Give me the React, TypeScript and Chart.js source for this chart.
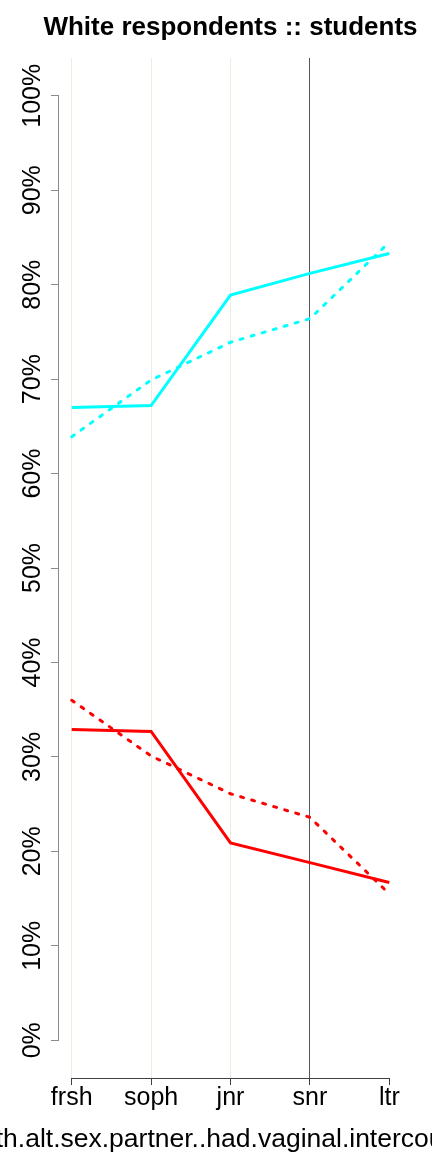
import React, { useEffect, useRef } from "react";
import { Chart, registerables } from "chart.js";

Chart.register(...registerables);

const categories = ["frsh", "soph", "jnr", "snr", "ltr"];
const cyanSolid = [67.0, 67.2, 78.9, 81.2, 83.3];
const cyanDashed = [63.9, 69.9, 73.9, 76.4, 84.5];
const redSolid = [32.9, 32.7, 20.9, 18.8, 16.7];
const redDashed = [36.0, 30.1, 26.1, 23.6, 15.5];
const yTicks = [0, 10, 20, 30, 40, 50, 60, 70, 80, 90, 100];
const xGridColors = ["#efeddc", "#efeddc", "#efeddc", "#555555", "rgba(0,0,0,0)"];
const chartTitle = "White respondents :: students";
const xTitle = "with.alt.sex.partner..had.vaginal.intercourse";

const FONT = "'Liberation Sans', Arial, Helvetica, sans-serif";

const toPoints = (vals: number[]) => vals.map((v, i) => ({ x: i, y: v }));

const rStyle = {
  id: "rStyle",
  afterDraw(chart: any) {
    const { ctx, chartArea, scales } = chart;
    const x = scales.x;
    const y = scales.y;
    ctx.save();
    ctx.lineWidth = 1;
    // y axis line (only over tick range)
    ctx.strokeStyle = "#8a8a8a";
    const ax = Math.round(chartArea.left) - 0.5;
    ctx.beginPath();
    ctx.moveTo(ax, y.getPixelForValue(yTicks[0]));
    ctx.lineTo(ax, y.getPixelForValue(yTicks[yTicks.length - 1]));
    ctx.stroke();
    // x axis line
    ctx.strokeStyle = "#404040";
    const by = Math.round(chartArea.bottom) + 0.5;
    ctx.beginPath();
    ctx.moveTo(x.getPixelForValue(0), by);
    ctx.lineTo(x.getPixelForValue(categories.length - 1), by);
    ctx.stroke();
    // main title
    const cx = (chartArea.left + chartArea.right) / 2;
    ctx.fillStyle = "#000";
    ctx.textAlign = "center";
    ctx.textBaseline = "alphabetic";
    ctx.font = `bold 26px ${FONT}`;
    ctx.fillText(chartTitle, cx, 35);
    // x axis title
    ctx.font = `26.5px ${FONT}`;
    ctx.fillText(xTitle, (x.left + x.right) / 2 - 5, chart.height - 5);
    ctx.restore();
  },
};

export default function App() {
  const ref = useRef<HTMLCanvasElement>(null);
  useEffect(() => {
    const chart = new Chart(ref.current as HTMLCanvasElement, {
      type: "line",
      data: {
        datasets: [
          { data: toPoints(cyanSolid), borderColor: "#00ffff", borderWidth: 3, pointRadius: 0, fill: false, order: 2 },
          { data: toPoints(cyanDashed), borderColor: "#00ffff", borderWidth: 3, pointRadius: 0, fill: false, borderDash: [3, 8.5], borderCapStyle: "round", order: 1 },
          { data: toPoints(redSolid), borderColor: "#ff0000", borderWidth: 3, pointRadius: 0, fill: false, order: 2 },
          { data: toPoints(redDashed), borderColor: "#ff0000", borderWidth: 3, pointRadius: 0, fill: false, borderDash: [3, 8.5], borderCapStyle: "round", order: 1 },
        ],
      },
      options: {
        responsive: false,
        animation: false,
        events: [],
        layout: { padding: { top: 58, right: 30, left: 0, bottom: 0 } },
        plugins: { legend: { display: false }, title: { display: false }, tooltip: { enabled: false } },
        scales: {
          x: {
            type: "linear",
            min: -0.16,
            max: categories.length - 1 + 0.16,
            afterBuildTicks: (s: any) => {
              s.ticks = categories.map((_, i) => ({ value: i }));
            },
            afterFit: (s: any) => {
              s.height = 74;
            },
            border: { display: false },
            grid: {
              color: (c: any) => xGridColors[c.index] ?? "rgba(0,0,0,0)",
              tickColor: "#404040",
              tickLength: 7,
              lineWidth: 1,
            },
            ticks: {
              autoSkip: false,
              maxRotation: 0,
              minRotation: 0,
              padding: 1,
              color: "#000",
              font: { size: 25, family: FONT, lineHeight: 1 },
              callback: (v: any) => categories[v as number] ?? "",
            },
          },
          y: {
            type: "linear",
            min: -4,
            max: 104,
            afterBuildTicks: (s: any) => {
              s.ticks = yTicks.map((v) => ({ value: v }));
            },
            afterFit: (s: any) => {
              s.width = 59;
            },
            border: { display: false },
            grid: {
              drawOnChartArea: false,
              tickColor: "#8a8a8a",
              tickLength: 8,
              lineWidth: 1,
            },
            ticks: {
              autoSkip: false,
              minRotation: 90,
              maxRotation: 90,
              crossAlign: "center",
              padding: -14,
              color: "#000",
              font: { size: 25, family: FONT, lineHeight: 1 },
              callback: (v: any) => `${v}%`,
            },
          },
        },
      },
      plugins: [rStyle],
    } as any);
    return () => chart.destroy();
  }, []);
  return (
    <div style={{ position: "absolute", left: 0, top: 0, width: 432, height: 1152 }}>
      <canvas ref={ref} width={432} height={1152} style={{ display: "block" }} />
    </div>
  );
}
